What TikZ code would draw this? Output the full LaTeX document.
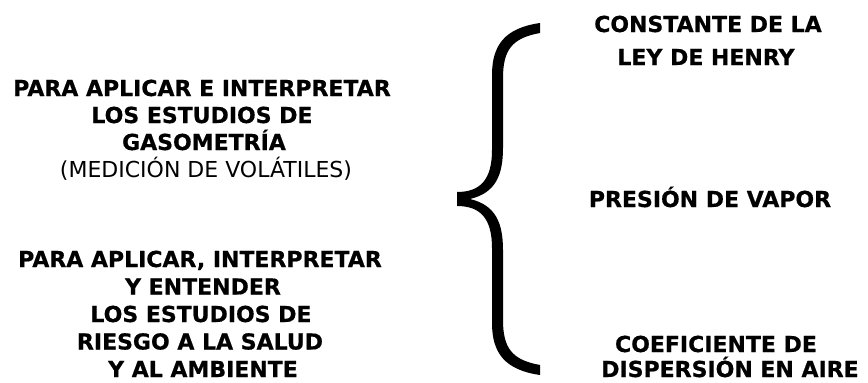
\documentclass[tikz,border=0pt]{standalone}
\usepackage{fontspec}
\setmainfont{DejaVu Sans}[BoldFeatures={FakeBold=0.6}]
\begin{document}
\begin{tikzpicture}[x=1pt,y=-1pt,
  lbl/.style={anchor=base, inner sep=0pt, font=\fontsize{22}{26}\selectfont\bfseries},
  lblthin/.style={anchor=base, inner sep=0pt, font=\fontsize{22}{26}\selectfont}]
\useasboundingbox (0,0) rectangle (868,383);

% left column: first purpose
\node[lbl]     (a1) at (202,96)  {PARA APLICAR E INTERPRETAR};
\node[lbl]     (a2) at (202,123) {LOS ESTUDIOS DE};
\node[lbl]     (a3) at (204,150) {GASOMETRÍA};
\node[lblthin] (a4) at (206,177) {(MEDICIÓN DE VOLÁTILES)};

% left column: second purpose
\node[lbl] (b1) at (200,267)   {PARA APLICAR, INTERPRETAR};
\node[lbl] (b2) at (203,294.5) {Y ENTENDER};
\node[lbl] (b3) at (201,322)   {LOS ESTUDIOS DE};
\node[lbl] (b4) at (200,349.5) {RIESGO A LA SALUD};
\node[lbl] (b5) at (203,377)   {Y AL AMBIENTE};

% right column: properties
\node[lbl] (c1) at (708,32)  {CONSTANTE DE LA};
\node[lbl] (c2) at (706,65)  {LEY DE HENRY};
\node[lbl] (c3) at (710,207) {PRESIÓN DE VAPOR};
\node[lbl] (c4) at (716,352) {COEFICIENTE DE};
\node[lbl] (c5) at (730,377) {DISPERSIÓN EN AIRE};

% curly brace, drawn as a filled outline
\fill[black]
  (540,23) .. controls (505,28) and (492,45) .. (492,75)
  -- (492,150) .. controls (492,180) and (480,192) .. (457,192)
  -- (457,206) .. controls (480,206) and (492,218) .. (492,248)
  -- (492,323) .. controls (492,353) and (505,370) .. (540,375)
  -- (540,365) .. controls (512,360) and (503,348) .. (503,320)
  -- (503,250) .. controls (503,222) and (495,205) .. (470,199)
  .. controls (495,193) and (503,176) .. (503,148)
  -- (503,78) .. controls (503,50) and (512,38) .. (540,33)
  -- cycle;
\end{tikzpicture}
\end{document}
